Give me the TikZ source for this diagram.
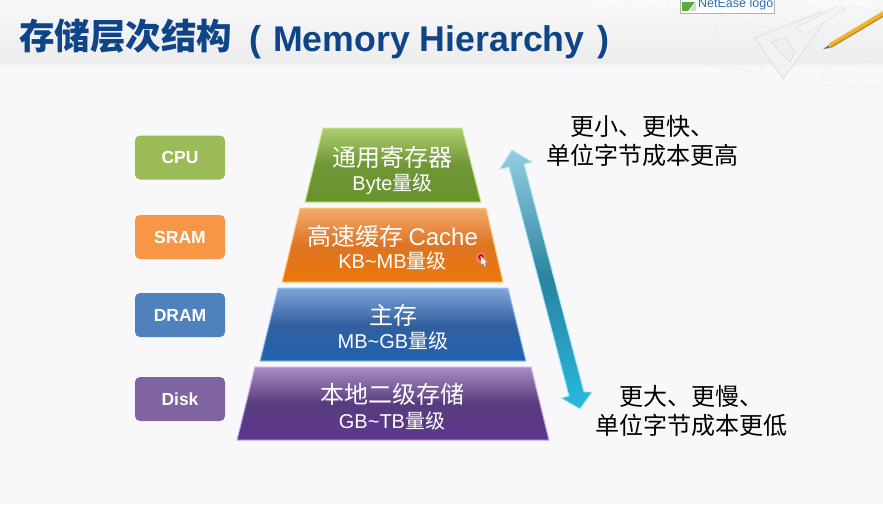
\documentclass[tikz,border=0pt]{standalone}
\usepackage{fontspec}
\setmainfont{Liberation Sans}
\newfontfamily\cj{Noto Sans CJK SC}
\usetikzlibrary{calc}
\definecolor{pagebg}{HTML}{F8F7FA}
\definecolor{titleblue}{HTML}{0E4488}
\tikzset{
  x=1pt,y=-1pt,
  levelbox/.style={draw=none,rounded corners=5pt,minimum width=90pt,minimum height=44pt,inner sep=0pt,text=white,font=\fontsize{17.5}{17.5}\selectfont\bfseries},
  tier/.style={line width=1pt,line join=miter},
  tiertext/.style={text=white,align=center,inner sep=0pt},
  sidetext/.style={text=black,align=center,inner sep=0pt,font=\fontsize{24}{29}\cj},
  sketch/.style={draw=black!7,line width=.5pt},
}
\newcommand{\bigt}{\fontsize{24}{24}\selectfont}
\newcommand{\smlt}{\fontsize{20}{20}\selectfont}
\begin{document}
\begin{tikzpicture}
\useasboundingbox (0,0) rectangle (883,504);
\fill[pagebg] (0,0) rectangle (883,504);
% header band
\shade[top color=pagebg,bottom color=black!7] (0,0) rectangle (883,62);
\shade[top color=black!7,bottom color=pagebg] (0,62) rectangle (883,67);
% faint plans, set square and pencil
\begin{scope}
\clip (0,0) rectangle (883,100);
\draw[sketch] (720,15) -- (775,30) -- (760,72) -- (705,65) -- cycle;
\foreach \k in {0,1,2,3}{\draw[sketch,draw=black!5] ($(720,15)!{\k/4}!(705,65)$) -- ($(775,30)!{\k/4}!(760,72)$);}
\draw[sketch] (845,5) -- (883,12) (883,88) -- (820,85) -- (845,5);
\foreach \k in {1,2,3,4}{\draw[sketch,draw=black!5] ($(845,5)!{\k/5}!(820,85)$) -- +(50,6);}
\fill[black!5,draw=black!16,line width=.5pt,even odd rule] (755,38) -- (820,12) -- (828,17) -- (783,79) -- cycle (771,42) -- (790,62) -- (795,51) -- (785,38) -- cycle;
\fill[black!4,draw=black!12,line width=.5pt] (795,28) -- (840,5) -- (845,9) -- (806,33) -- cycle;
\end{scope}
\fill[black!55] (823,49) -- (829,45) -- (830,48) -- cycle;
\fill[fill={rgb,255:red,236;green,180;blue,50}] (829,43.5) -- (883,11) -- (883,17) -- (831,48) -- cycle;
\fill[fill={rgb,255:red,200;green,140;blue,30}] (830.5,46.5) -- (883,15.5) -- (883,17) -- (831,48) -- cycle;
% top strip of the video page
\begin{scope}
\clip (0,0) rectangle (883,504);
\node[inner sep=0pt,anchor=base west,text=white,font=\fontsize{13}{13}\selectfont] (hosted) at (591,6) {Video hosted by};
\node[inner sep=0pt,anchor=base west,text=white,font=\fontsize{13}{13}\selectfont] (help) at (803,6) {Help Center};
\fill[white] (680,-1) rectangle (775,13);
\draw[black!30,line width=.8pt] (680.5,-1) rectangle (774.5,13);
\fill[fill={rgb,255:red,90;green,170;blue,60}] (682,2) -- (695,2) -- (688,11) -- (682,11) -- cycle;
\fill[black!15] (696,2) -- (696,11) -- (689,11) -- cycle;
\node[inner sep=0pt,anchor=base west,text={rgb,255:red,40;green,110;blue,190},font=\fontsize{12.5}{12.5}\selectfont] (logo) at (698,7) {NetEase logo};
\end{scope}
% title
\node[inner sep=0pt,anchor=base west,text=titleblue,font=\fontsize{35.5}{35.5}\cj\bfseries] (titlecn) at (19,49) {存储层次结构};
\node[inner sep=0pt,anchor=base west,text=titleblue,font=\fontsize{35.7}{35.7}\selectfont\bfseries] (titleen) at (273,51) {Memory Hierarchy};
\node[inner sep=0pt,anchor=base,text=titleblue,font=\fontsize{36}{36}\selectfont\bfseries] (lp) at (255,51) {(};
\node[inner sep=0pt,anchor=base,text=titleblue,font=\fontsize{36}{36}\selectfont\bfseries] (rp) at (603,51) {)};
% left labels
\node[levelbox,fill={rgb,255:red,155;green,187;blue,89}] (cpu) at (180,157.5) {CPU};
\node[levelbox,fill={rgb,255:red,247;green,150;blue,70}] (sram) at (180,237) {SRAM};
\node[levelbox,fill={rgb,255:red,79;green,129;blue,189}] (dram) at (180,315) {DRAM};
\node[levelbox,fill={rgb,255:red,128;green,100;blue,162}] (disk) at (180,399) {Disk};
% tiers
\shade[top color={rgb,255:red,172;green,205;blue,110},bottom color={rgb,255:red,104;green,148;blue,44},middle color={rgb,255:red,112;green,150;blue,54}] (323,128) -- (462,128) -- (481,202) -- (305,202) -- cycle;
\draw[tier,draw={rgb,255:red,200;green,232;blue,130}] (323,128) -- (462,128) -- (481,202) -- (305,202) -- cycle;
\shade[top color={rgb,255:red,244;green,168;blue,110},bottom color={rgb,255:red,235;green,120;blue,10},middle color={rgb,255:red,222;green,116;blue,36}] (300,208) -- (486,208) -- (503,282) -- (282,282) -- cycle;
\draw[tier,draw={rgb,255:red,255;green,205;blue,120}] (300,208) -- (486,208) -- (503,282) -- (282,282) -- cycle;
\shade[top color={rgb,255:red,128;green,165;blue,218},bottom color={rgb,255:red,32;green,98;blue,176},middle color={rgb,255:red,50;green,96;blue,160}] (278,288) -- (508,288) -- (526,361) -- (260,361) -- cycle;
\draw[tier,draw={rgb,255:red,150;green,200;blue,245}] (278,288) -- (508,288) -- (526,361) -- (260,361) -- cycle;
\shade[top color={rgb,255:red,168;green,140;blue,195},bottom color={rgb,255:red,94;green,54;blue,142},middle color={rgb,255:red,88;green,60;blue,126}] (255,367) -- (531,367) -- (549,440) -- (237,440) -- cycle;
\draw[tier,draw={rgb,255:red,200;green,170;blue,235}] (255,367) -- (531,367) -- (549,440) -- (237,440) -- cycle;
% tier texts
\node[tiertext] (t1a) at (392.5,157) {\bigt\cj 通用寄存器};
\node[tiertext] (t1b) at (392.5,184) {\smlt Byte\cj 量级};
\node[tiertext] (t2a) at (392.5,236) {\bigt\cj 高速缓存 \bigt\rmfamily Cache};
\node[tiertext] (t2b) at (392.5,261) {\smlt KB\textasciitilde MB\cj 量级};
\node[tiertext] (t3a) at (393,315) {\bigt\cj 主存};
\node[tiertext] (t3b) at (393,341) {\smlt MB\textasciitilde GB\cj 量级};
\node[tiertext] (t4a) at (392.5,394) {\bigt\cj 本地二级存储};
\node[tiertext] (t4b) at (392,421) {\smlt GB\textasciitilde TB\cj 量级};
% double arrow
\shade[top color={rgb,255:red,150;green,205;blue,225},bottom color={rgb,255:red,40;green,185;blue,225},middle color={rgb,255:red,40;green,132;blue,158}]
  (512,150) -- (532,162) -- (524,164) -- (584,392) -- (592,392) -- (580,409) -- (561,398) -- (569,396) -- (509,167) -- (500,169) -- cycle;
\draw[draw={rgb,255:red,170;green,230;blue,245},line width=.9pt,line join=miter]
  (512,150) -- (532,162) -- (524,164) -- (584,392) -- (592,392) -- (580,409) -- (561,398) -- (569,396) -- (509,167) -- (500,169) -- cycle;
% side texts
\node[sidetext] (fast) at (642,141) {更小、更快、\\单位字节成本更高};
\node[sidetext] (slow) at (691,411) {更大、更慢、\\单位字节成本更低};
% pointer
\fill[fill={rgb,255:red,240;green,130;blue,140},opacity=.75] (481,258) circle (5.5);
\fill[red!85!black] (481,257) circle (2.8);
\fill[white!85!red] (481,257) circle (1);
\fill[white,draw=black!45,line width=.3pt] (481,256) -- (481,265) -- (483,263.5) -- (484.5,266.5) -- (486,265.8) -- (484.6,263) -- (487,262.6) -- cycle;
\end{tikzpicture}
\end{document}
